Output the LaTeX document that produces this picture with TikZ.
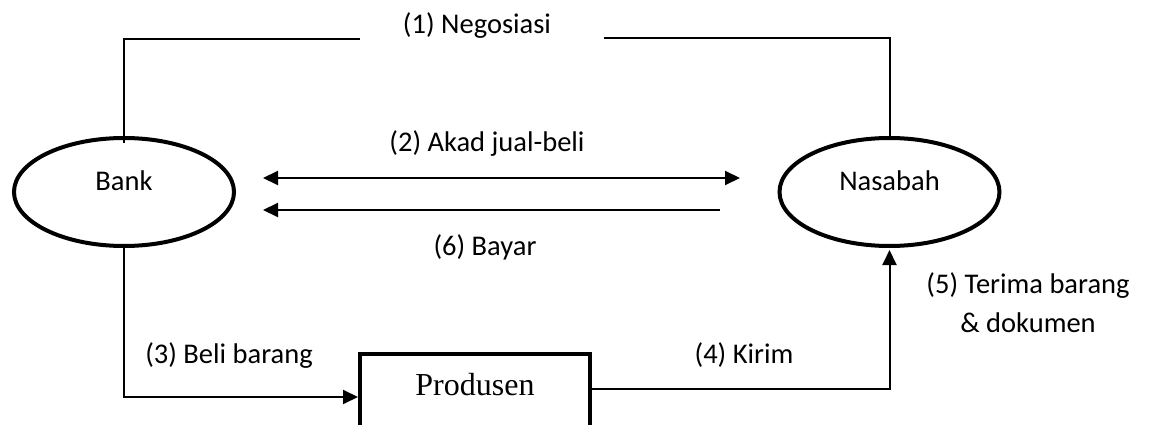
\documentclass[tikz,border=0pt]{standalone}
\usepackage{fontspec}
\setmainfont{Carlito}
\newfontfamily\boxfont{Liberation Serif}
\usetikzlibrary{arrows.meta,shapes.geometric}

\tikzset{
  party/.style={ellipse, draw, line width=4pt, minimum width=220pt, minimum height=108pt,
    inner sep=0pt, text height=20pt, text depth=24pt},
  producer/.style={rectangle, draw, line width=4pt, minimum width=230pt, inner xsep=0pt,
    inner ysep=0pt, text height=41pt, text depth=52pt, anchor=north,
    font=\boxfont\fontsize{32}{38}\selectfont},
  flow/.style={line width=2pt},
  tip/.style={-{Triangle[length=15pt,width=14pt]}},
  lbl/.style={anchor=base, inner sep=0pt},
}

\begin{document}
\begin{tikzpicture}[x=1pt, y=1pt, font=\fontsize{28.5}{39}\selectfont]
  \useasboundingbox (0,0) rectangle (1149,-425);
  \clip (0,0) rectangle (1149,-425);

  % parties
  \node[party] (bank) at (124,-192) {Bank};
  \node[party] (nasabah) at (889.5,-192) {Nasabah};
  \node[producer] (prod) at (475,-352) {Produsen};

  % (1) negotiation line, broken around its label
  \node[lbl] (neg) at (477,-34) {(1) Negosiasi};
  \coordinate (negL) at (360,-39);
  \coordinate (negR) at (604,-38);
  \draw[flow] ([yshift=-7pt]bank.north) |- (negL);
  \draw[flow] (negR) -| (nasabah.north);

  % (2) contract, both directions
  \coordinate (akadL) at (263,-178);
  \coordinate (akadR) at (740,-178);
  \draw[flow, {Triangle[length=15pt,width=14pt]}-{Triangle[length=15pt,width=14pt]}] (akadL) -- (akadR);
  \node[lbl] (akad) at (487,-152) {(2) Akad jual-beli};

  % (6) payment
  \coordinate (bayarR) at (720,-210);
  \coordinate (bayarL) at (263,-210);
  \draw[flow, tip] (bayarR) -- (bayarL);
  \node[lbl] (bayar) at (485,-255) {(6) Bayar};

  % (3) purchase
  \draw[flow, tip] (bank.south) |- ([yshift=3.5pt]prod.west);
  \node[lbl] (beli) at (229,-363) {(3) Beli barang};

  % (4) delivery, (5) receipt
  \draw[flow, tip] ([yshift=11.5pt]prod.east) -| ([yshift=-2pt]nasabah.south);
  \node[lbl] (kirim) at (744,-363) {(4) Kirim};
  \node[anchor=base, inner sep=0pt, align=center] (terima) at (1028,-332)
    {(5) Terima barang\\\& dokumen};
\end{tikzpicture}
\end{document}
